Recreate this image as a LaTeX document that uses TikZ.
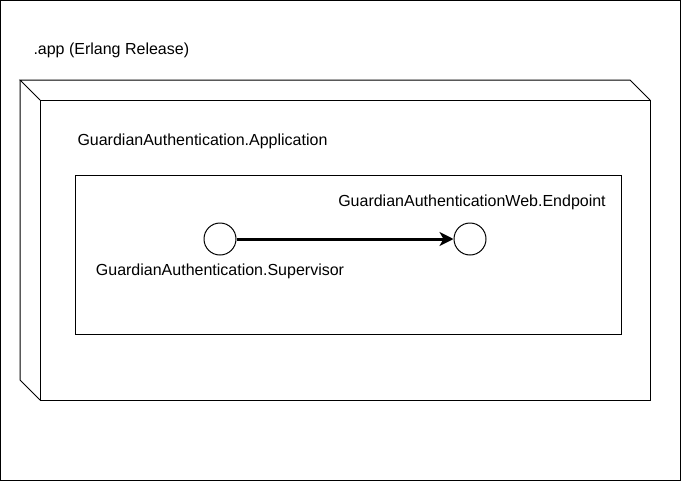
\documentclass[tikz,border=0pt]{standalone}
\usepackage{fontspec}
\setmainfont{Liberation Sans}
\usetikzlibrary{arrows.meta, positioning}

\begin{document}
\begin{tikzpicture}[x=1pt, y=-1pt, line width=1pt, font=\fontsize{16}{18}\selectfont,
    proc/.style = {draw, circle, minimum size=32pt, inner sep=0pt},
    lbl/.style = {inner sep=0pt, text height=11.5pt, text depth=3pt}]
    \useasboundingbox (0,0) rectangle (682,482);
    \draw (0.5,0.5) rectangle (680.5,480.5);

    % release box (3d node)
    \draw (40,100) rectangle (650,400);
    \draw (40,100) -- (20,80) -- (630,80) -- (650,100);
    \draw (20,80) -- (20,380) -- (40,400);
    \node[lbl, anchor=west] (rel) at (33,50) {.app (Erlang Release)};

    % application
    \node[lbl, anchor=west] (app) at (77,141) {GuardianAuthentication.Application};
    \draw (75.5,175.5) rectangle (621.5,334.5);

    \node[proc] (sup) at (220,239) {};
    \node[proc] (web) at (470,239) {};
    \node[lbl] (suplbl) at (220,271) {GuardianAuthentication.Supervisor};
    \node[lbl] (weblbl) at (472,202) {GuardianAuthenticationWeb.Endpoint};

    \draw[line width=3pt, -{Stealth[length=14pt, width=14pt, inset=4pt]}] (sup) -- (web);
\end{tikzpicture}
\end{document}
